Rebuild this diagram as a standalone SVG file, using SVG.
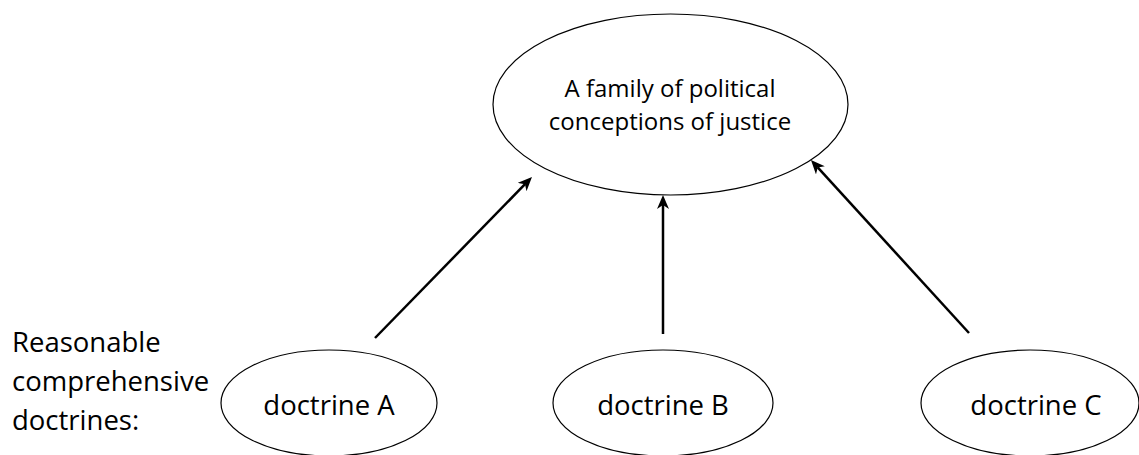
<svg xmlns="http://www.w3.org/2000/svg" width="1139" height="455" viewBox="0 0 1139 455">
<style>
.node ellipse{fill:#ffffff;stroke:#000000;stroke-width:1.2}
text{font-family:"Open Sans","Noto Sans","Liberation Sans",sans-serif;fill:#000000}
.big{font-size:27.5px;text-anchor:middle}
.top{font-size:24px;text-anchor:middle}
.lbl{font-size:27.5px}
.conn line{stroke:#000000;stroke-width:2.5;fill:none;marker-end:url(#ah)}
</style>
<defs>
<marker id="ah" viewBox="0 0 14 12" refX="4" refY="6" markerWidth="14" markerHeight="12" markerUnits="userSpaceOnUse" orient="auto">
<path d="M0,0 L14,6 L0,12 L4,6 Z" fill="#000000"/>
</marker>
</defs>
<rect width="1139" height="455" fill="#ffffff"/>
<g id="family" class="node">
<ellipse cx="670.5" cy="104.5" rx="177.5" ry="90.5"/>
<text class="top" x="670" y="97">A family of political</text>
<text class="top" x="670" y="130">conceptions of justice</text>
</g>
<g id="doctrineA" class="node">
<ellipse cx="329" cy="403" rx="108" ry="53"/>
<text class="big" x="329" y="415">doctrine A</text>
</g>
<g id="doctrineB" class="node">
<ellipse cx="663" cy="403" rx="110" ry="53"/>
<text class="big" x="663" y="415">doctrine B</text>
</g>
<g id="doctrineC" class="node">
<ellipse cx="1030" cy="403" rx="109" ry="53"/>
<text class="big" x="1036" y="415">doctrine C</text>
</g>
<g id="label">
<text class="lbl" x="12" y="352">Reasonable</text>
<text class="lbl" x="12" y="391">comprehensive</text>
<text class="lbl" x="12" y="430">doctrines:</text>
</g>
<g id="connectors" class="conn">
<line x1="375" y1="338" x2="525" y2="184.2"/>
<line x1="663" y1="334" x2="663" y2="205"/>
<line x1="969" y1="333" x2="817.7" y2="167.4"/>
</g>
</svg>
